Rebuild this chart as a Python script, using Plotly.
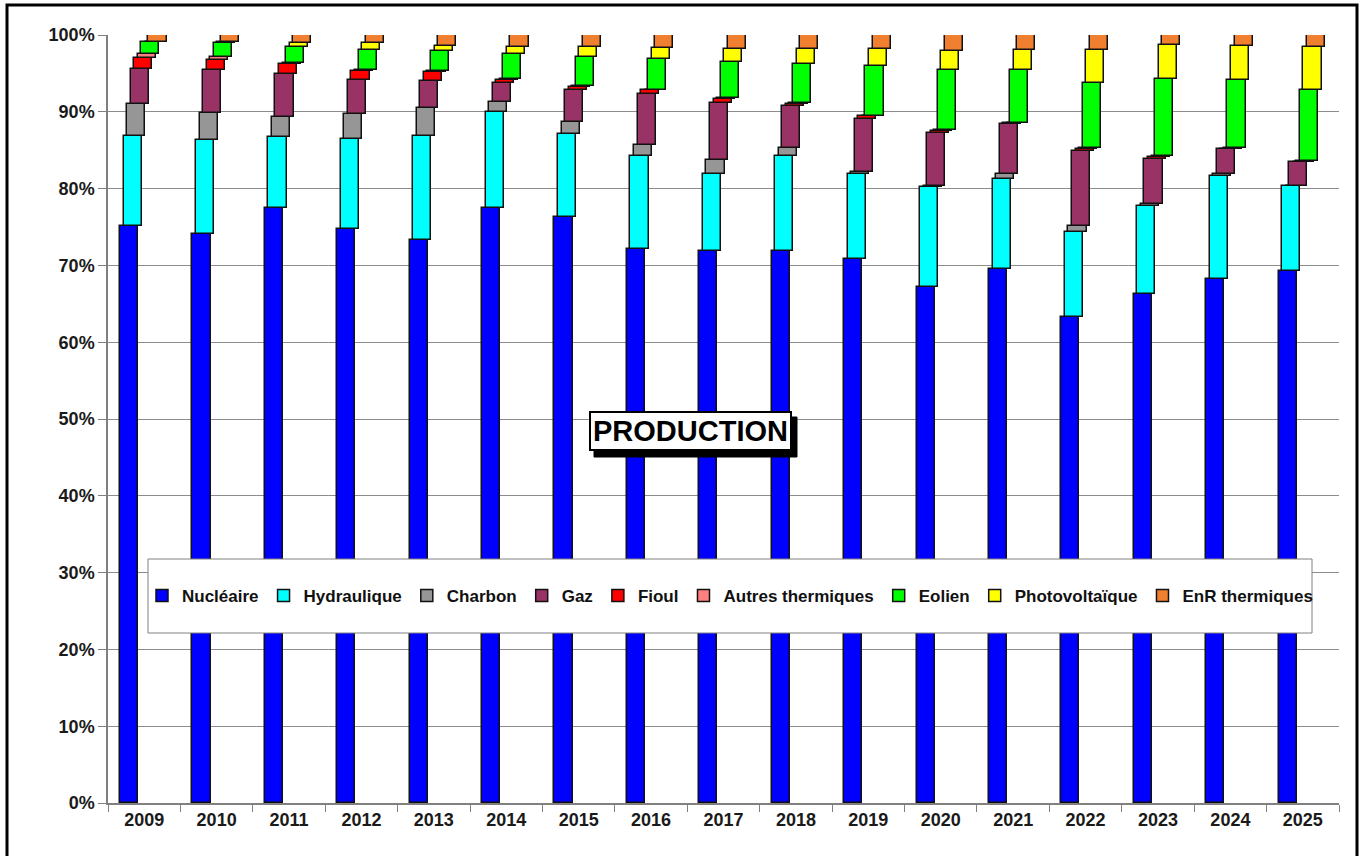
import plotly.graph_objects as go

years = [str(y) for y in range(2009, 2026)]

nucleaire     = [75.1, 74.1, 77.5, 74.7, 73.3, 77.5, 76.3, 72.2, 71.9, 71.9, 70.8, 67.2, 69.5, 63.3, 66.3, 68.2, 69.3]
hydraulique   = [11.8, 12.2, 9.2, 11.8, 13.6, 12.5, 10.8, 12.1, 10.0, 12.3, 11.1, 13.0, 11.7, 11.1, 11.5, 13.5, 11.0]
charbon       = [4.1, 3.5, 2.6, 3.2, 3.6, 1.3, 1.6, 1.4, 1.8, 1.1, 0.3, 0.2, 0.7, 0.7, 0.2, 0.2, 0.1]
gaz           = [4.6, 5.6, 5.6, 4.4, 3.5, 2.5, 4.1, 6.6, 7.5, 5.5, 6.9, 6.9, 6.5, 9.8, 5.9, 3.2, 3.0]
fioul         = [1.4, 1.3, 1.3, 1.2, 1.2, 0.4, 0.4, 0.5, 0.5, 0.2, 0.3, 0.2, 0.1, 0.3, 0.2, 0.1, 0.1]
autres_therm  = [0.5, 0.4, 0.1, 0.1, 0.1, 0.1, 0.1, 0.1, 0.1, 0.1, 0.1, 0.1, 0.1, 0.1, 0.1, 0.1, 0.1]
eolien        = [1.6, 1.9, 2.2, 2.7, 2.6, 3.2, 3.8, 4.0, 4.7, 5.1, 6.4, 7.9, 6.8, 8.5, 10.1, 8.8, 9.2]
photovolt     = [0.0, 0.1, 0.5, 0.8, 0.7, 0.9, 1.3, 1.4, 1.7, 2.0, 2.3, 2.4, 2.6, 4.3, 4.4, 4.5, 5.6]
enr_therm     = [0.9, 0.9, 1.0, 1.1, 1.4, 1.6, 1.6, 1.7, 1.8, 1.8, 1.8, 2.1, 2.0, 1.9, 1.3, 1.4, 1.6]

series_names = ["Nucléaire", "Hydraulique", "Charbon", "Gaz", "Fioul",
                "Autres thermiques", "Eolien", "Photovoltaïque", "EnR thermiques"]
series_values = [nucleaire, hydraulique, charbon, gaz, fioul,
                 autres_therm, eolien, photovolt, enr_therm]
series_colors = ["#0000FF", "#00FFFF", "#969696", "#993366", "#FF0000",
                 "#FF8080", "#00FF00", "#FFFF00", "#F08030"]

FONT = "Arial, Liberation Sans, sans-serif"

fig = go.Figure()
base = [0.0] * len(years)
for i, (name, vals, col) in enumerate(zip(series_names, series_values, series_colors)):
    fig.add_trace(go.Bar(
        x=years, y=vals, base=list(base), name=name,
        marker=dict(color=col, line=dict(color="#111111", width=1.5)),
        width=0.25, offset=-0.334 + i * 0.049,
    ))
    base = [b + v for b, v in zip(base, vals)]

FW, FH = 1365, 856
# plot area in page pixels: x 108..1339, y 35..803
L, R, T, B = 108, 1339, 35, 803
W, H = R - L, B - T
def px(xp): return (xp - L) / W
def py(yp): return (B - yp) / H

shapes = [
    # outer frame
    dict(type="rect", xref="paper", yref="paper",
         x0=px(7), x1=px(1357), y0=py(880), y1=py(5),
         line=dict(color="black", width=3), fillcolor="rgba(0,0,0,0)", layer="above"),
    # legend box
    dict(type="rect", xref="paper", yref="paper",
         x0=px(148), x1=px(1312), y0=py(633), y1=py(559),
         line=dict(color="#808080", width=1), fillcolor="white", layer="above"),
    # title box shadow
    dict(type="rect", xref="paper", yref="paper",
         x0=px(594), x1=px(797), y0=py(457), y1=py(417),
         line=dict(color="black", width=1), fillcolor="black", layer="above"),
]

fig.update_layout(
    width=FW, height=FH,
    margin=dict(l=L, r=FW - R, t=T, b=FH - B),
    paper_bgcolor="white", plot_bgcolor="white",
    barmode="overlay", bargap=0,
    font=dict(family=FONT, size=18, color="#1a1a1a"),
    showlegend=True,
    legend=dict(orientation="h", x=px(730), y=py(596), xanchor="center", yanchor="middle",
                bgcolor="rgba(0,0,0,0)", borderwidth=0,
                font=dict(family=FONT, size=17, color="#111111", weight="bold"),
                itemclick=False, traceorder="normal", itemwidth=30),
    shapes=shapes,
    annotations=[dict(
        text="<b>PRODUCTION</b>", xref="paper", yref="paper",
        x=px(690), y=py(431), xanchor="center", yanchor="middle", showarrow=False,
        font=dict(family=FONT, size=29, color="black"),
        bgcolor="white", bordercolor="black", borderwidth=2, borderpad=2,
    )],
)

fig.update_xaxes(
    type="category", range=[-0.5, 16.5],
    showline=True, linecolor="#808080", linewidth=1.5,
    ticks="outside", tickson="boundaries", ticklen=7, tickcolor="#808080",
    tickfont=dict(family=FONT, size=18, color="#1a1a1a", weight="bold"),
    showgrid=False,
)
fig.update_yaxes(
    range=[0, 100], dtick=10, ticksuffix="%",
    showline=True, linecolor="#808080", linewidth=1.5,
    ticks="outside", ticklen=8, tickcolor="#808080",
    gridcolor="#8c8c8c", gridwidth=1.2,
    tickfont=dict(family=FONT, size=18, color="#1a1a1a", weight="bold"),
    zeroline=False,
)

fig.write_html(
    "out.html",
    config={"displayModeBar": False},
    post_script="document.body.style.margin='0';document.body.style.overflow='hidden';",
)
